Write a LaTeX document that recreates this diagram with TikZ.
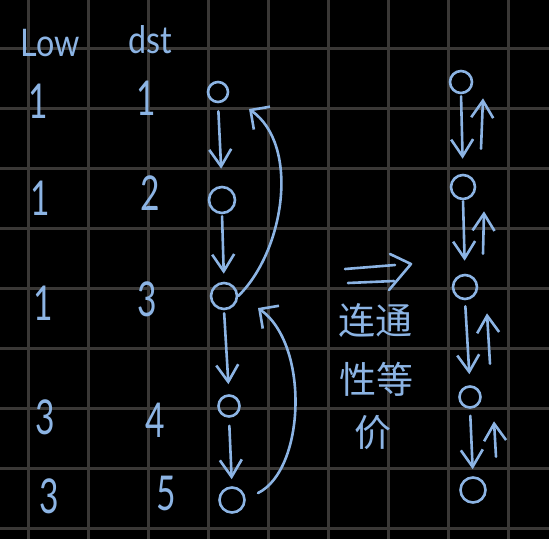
\documentclass[tikz,border=0pt]{standalone}
\usepackage{fontspec}
\setmainfont{Lato}
\newfontfamily\cjk{Noto Sans CJK SC}
\usetikzlibrary{arrows.meta,calc}
\definecolor{ink}{RGB}{140,180,228}
\definecolor{gridc}{RGB}{58,56,54}
\begin{document}
\begin{tikzpicture}[x=1pt,y=-1pt,
  gline/.style={gridc,line width=3pt},
  pen/.style={ink,line width=2.6pt,line cap=round,line join=round},
  vtx/.style={circle,draw=ink,line width=2.6pt,inner sep=0pt},
  arr/.style={pen,-{Straight Barb[length=17pt,width=22pt,line width=2.6pt]}},
  barr/.style={pen,-{Straight Barb[length=14pt,width=28pt,line width=2.6pt]}},
  lbl/.style={text=ink,inner sep=0pt,xscale=0.85,font=\fontsize{38}{38}\selectfont},
  num/.style={text=ink,inner sep=0pt,xscale=0.7,font=\fontsize{48}{48}\selectfont},
  zh/.style={text=ink,inner sep=0pt,font=\cjk\fontsize{37}{37}\selectfont}]
\fill[black] (0,0) rectangle (549,539);
\useasboundingbox (0,0) rectangle (549,539);
\foreach \x in {28,88,...,508} \draw[gline] (\x,0) -- (\x,539);
\foreach \y in {48,108,...,528} \draw[gline] (0,\y) -- (549,\y);
% headers
\node[lbl] (low) at (50,43) {Low};
\node[lbl] (dst) at (150,40) {dst};
% low column
\node[num] (l1) at (38,101) {1};
\node[num] (l2) at (40,198) {1};
\node[num] (l3) at (43,303) {1};
\node[num] (l4) at (45,417) {3};
\node[num] (l5) at (49,496) {3};
% dst column
\node[num] (d1) at (146,98) {1};
\node[num] (d2) at (150,193) {2};
\node[num] (d3) at (147,299) {3};
\node[num] (d4) at (155,420) {4};
\node[num] (d5) at (166,493) {5};
% left graph
\node[vtx,minimum size=20pt] (n1) at (218,92) {};
\node[vtx,minimum size=26pt] (n2) at (222,200) {};
\node[vtx,minimum size=26pt] (n3) at (224,296) {};
\node[vtx,minimum size=21pt] (n4) at (229,406) {};
\node[vtx,minimum size=25pt] (n5) at (232,500) {};
\draw[arr,shorten <=8pt,shorten >=17pt] (n1.south) -- (n2.north);
\draw[arr,shorten <=2pt,shorten >=8pt] (n2.south) -- (n3.north);
\draw[arr,shorten <=3pt,shorten >=10pt] (n3.south) -- (n4.north);
\draw[arr,shorten <=8pt,shorten >=7pt] (n4.south) -- (n5.north);
\draw[barr] (n3.east) .. controls (285,250) and (300,145) .. ($(n1)+(31,17)$);
\draw[barr] ($(n5)+(26,-7)$) .. controls (305,470) and (310,345) .. ($(n3)+(34,12)$);
% implication arrow
\draw[pen] (345,269) -- (395,265);
\draw[pen] (348,283) -- (394,281);
\draw[pen] (390,254) -- (411,264) -- (389,290);
% chinese text
\node[zh] (t1) at (375,320) {连通};
\node[zh] (t2) at (376,379) {性等};
\node[zh] (t3) at (373,433) {价};
% right graph
\node[vtx,minimum size=22pt] (m1) at (461,82) {};
\node[vtx,minimum size=24pt] (m2) at (463,187) {};
\node[vtx,minimum size=24pt] (m3) at (465,287) {};
\node[vtx,minimum size=21pt] (m4) at (470,397) {};
\node[vtx,minimum size=25pt] (m5) at (473,490) {};
\draw[arr,shorten <=2pt,shorten >=15pt] (m1.south) -- (m2.north);
\draw[arr,shorten <=1pt,shorten >=13pt] (m2.south) -- (m3.north);
\draw[arr,shorten <=6pt,shorten >=11pt] (m3.south) -- (m4.north);
\draw[arr,shorten <=7pt,shorten >=7pt] (m4.south) -- (m5.north);
\draw[arr] ($(m2.north)+(18,-25)$) -- ($(m1.south)+(22,4)$);
\draw[arr] ($(m3.north)+(18,-20)$) -- ($(m2.south)+(21,11)$);
\draw[arr] ($(m4.north)+(20,-21.5)$) -- ($(m3.south)+(22,13)$);
\draw[arr] ($(m5.north)+(23,-19.5)$) -- ($(m4.south)+(24,12.5)$);
\end{tikzpicture}
\end{document}
